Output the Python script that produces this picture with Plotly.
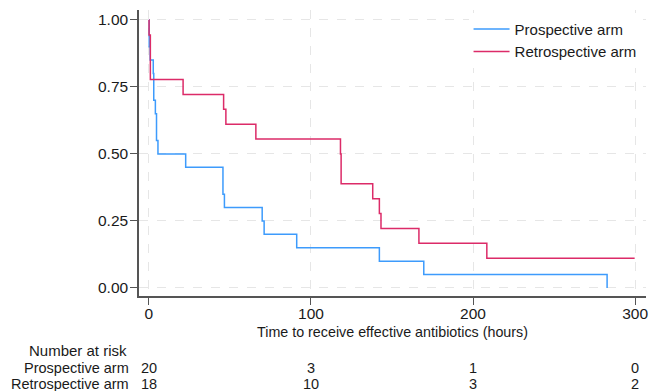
import plotly.graph_objects as go

# Kaplan-Meier step data (time in hours, survival probability)
pro_time = [0, 0.2, 0.8, 2.7, 3.0, 4.0, 4.7, 5.6, 22.7, 45.7, 46.6, 69.9, 71.1, 91.2, 142.2, 169.6, 282.7]
pro_surv = [1.0, 0.90, 0.85, 0.80, 0.70, 0.65, 0.55, 0.50, 0.45, 0.35, 0.30, 0.25, 0.20, 0.15, 0.10, 0.05, 0.0]

retro_time = [0, 0.1, 0.9, 21.1, 46.1, 47.5, 66.0, 118.2, 118.6, 138.1, 142.2, 143.2, 166.6, 208.5, 299.7]
retro_surv = [1.0, 0.944, 0.778, 0.722, 0.667, 0.611, 0.556, 0.500, 0.389, 0.333, 0.278, 0.222, 0.167, 0.111, 0.111]

risk_times = [0, 100, 200, 300]
risk_pro = [20, 3, 1, 0]
risk_retro = [18, 10, 3, 2]

x_ticks = [0, 100, 200, 300]
y_ticks = [0, 0.25, 0.5, 0.75, 1.0]
y_ticklabels = ["0.00", "0.25", "0.50", "0.75", "1.00"]

BLUE = "#3d9bfc"
RED = "#dc2b68"
FONT = "Liberation Sans, Arial, sans-serif"
TXT = "#1a1a1a"

fig = go.Figure()
fig.add_trace(go.Scatter(x=pro_time, y=pro_surv, mode="lines", line=dict(shape="hv", color=BLUE, width=1.5),
                         name="Prospective arm"))
fig.add_trace(go.Scatter(x=retro_time, y=retro_surv, mode="lines", line=dict(shape="hv", color=RED, width=1.5),
                         name="Retrospective arm"))

axis_common = dict(showline=True, linecolor="#555555", linewidth=1.5, ticks="outside", ticklen=7,
                   tickcolor="#555555", tickwidth=1.3, showgrid=True, gridcolor="#e6e6e6", griddash="dash",
                   gridwidth=1, zeroline=False, tickfont=dict(family=FONT, size=15.5, color=TXT))

fig.update_xaxes(range=[-6.1, 306.7], tickvals=x_ticks, ticklabelstandoff=-4, **axis_common)
fig.update_yaxes(range=[-0.03, 1.037], tickvals=y_ticks, ticktext=y_ticklabels, ticklabelstandoff=-1,
                 **axis_common)

annotations = [dict(text="Time to receive effective antibiotics (hours)", xref="paper", yref="paper",
                    x=0.5, y=-0.126, xanchor="center", yanchor="middle", showarrow=False,
                    font=dict(family=FONT, size=14.3, color=TXT)),
               dict(text="Number at risk", xref="paper", yref="paper", x=-0.0196, y=-0.189,
                    xanchor="right", yanchor="middle", showarrow=False,
                    font=dict(family=FONT, size=15, color=TXT)),
               dict(text="Prospective arm", xref="paper", yref="paper", x=-0.0157, y=-0.25,
                    xanchor="right", yanchor="middle", showarrow=False,
                    font=dict(family=FONT, size=14.5, color=TXT)),
               dict(text="Retrospective arm", xref="paper", yref="paper", x=-0.0157, y=-0.307,
                    xanchor="right", yanchor="middle", showarrow=False,
                    font=dict(family=FONT, size=14.5, color=TXT))]
for t, a, b in zip(risk_times, risk_pro, risk_retro):
    annotations.append(dict(text=str(a), xref="x", yref="paper", x=t, y=-0.25, xanchor="center",
                            yanchor="middle", showarrow=False, font=dict(family=FONT, size=14.5, color=TXT)))
    annotations.append(dict(text=str(b), xref="x", yref="paper", x=t, y=-0.307, xanchor="center",
                            yanchor="middle", showarrow=False, font=dict(family=FONT, size=14.5, color=TXT)))

fig.update_layout(
    width=652, height=391,
    margin=dict(l=139, r=4, t=10, b=95),
    paper_bgcolor="white", plot_bgcolor="white",
    font=dict(family=FONT, size=14, color=TXT),
    legend=dict(x=0.65, y=0.99, xanchor="left", yanchor="top", bgcolor="white", itemwidth=36,
                font=dict(family=FONT, size=15, color=TXT), tracegroupgap=0),
    annotations=annotations,
)

fig.write_html("out.html", config={"displayModeBar": False},
               post_script="document.body.style.margin='0';document.body.style.padding='0';")
